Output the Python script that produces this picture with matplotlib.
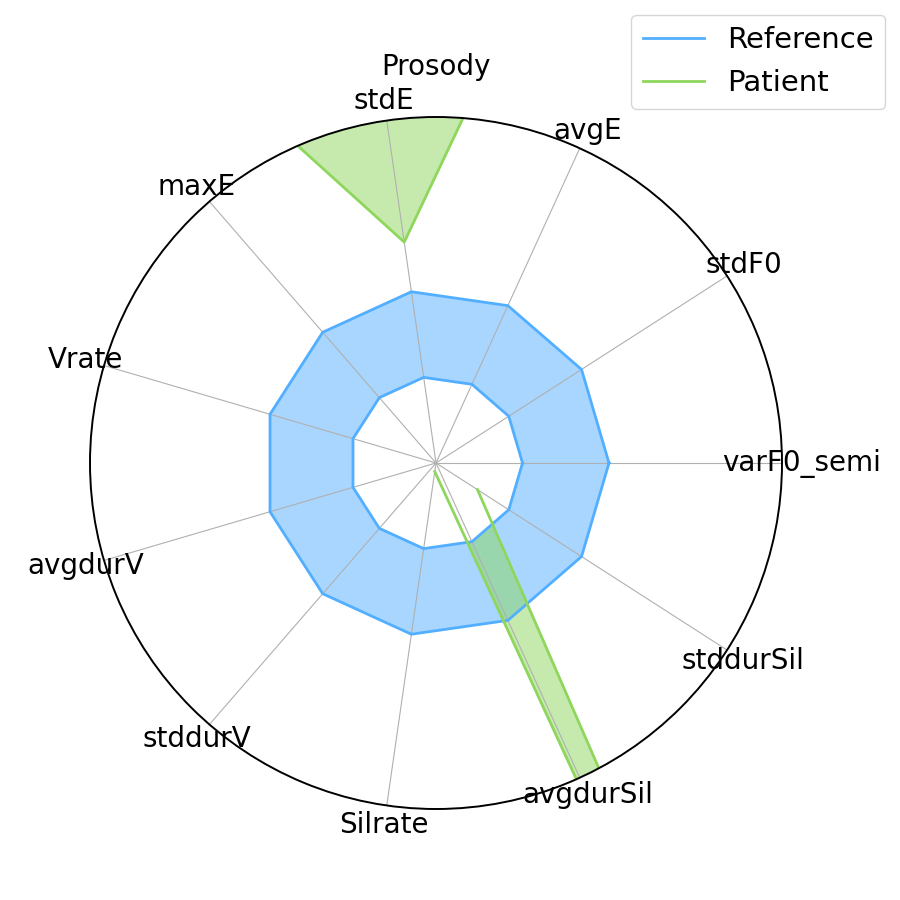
import numpy as np
import matplotlib
matplotlib.use('Agg')
import matplotlib.pyplot as plt

# Categorias del grafico radar (prosodia)
categorias = ['varF0_semi', 'stdF0', 'avgE', 'stdE', 'maxE', 'Vrate',
              'avgdurV', 'stddurV', 'Silrate', 'avgdurSil', 'stddurSil']

# Banda de referencia (limite inferior y superior)
ref_inf = [1.0, 1.0, 1.0, 1.0, 1.0, 1.0, 1.0, 1.0, 1.0, 1.0, 1.0]
ref_sup = [2.0, 2.0, 2.0, 2.0, 2.0, 2.0, 2.0, 2.0, 2.0, 2.0, 2.0]

# Paciente (NaN = fuera de escala, no se dibuja)
paciente = [np.nan, np.nan, 100.0, 2.58, 13.6, np.nan,
            np.nan, np.nan, 0.1, 18.0, 0.57]

r_max = 4.0

azul = '#52afff'
verde = '#8ed65c'

n = len(categorias)
angulos = np.linspace(0, 2 * np.pi, n, endpoint=False).tolist()
angulos_c = angulos + angulos[:1]

def cerrar(v):
    return list(v) + [v[0]]

plt.rcParams['font.size'] = 20

fig = plt.figure(figsize=(9, 9), dpi=100)
ax = fig.add_axes([90 / 900, 91 / 900, 692 / 900, 692 / 900], polar=True)

# rellenos: referencia exterior, paciente, y hueco interior en blanco
ax.fill(angulos_c, cerrar(ref_sup), color=azul, alpha=0.5, linewidth=0)
ax.fill(angulos_c, cerrar(paciente), color=verde, alpha=0.5, linewidth=0)
ax.fill(angulos_c, cerrar(ref_inf), color='white', alpha=1.0, linewidth=0)

# lineas
ax.plot(angulos_c, cerrar(ref_sup), color=azul, linewidth=2, label='Reference')
ax.plot(angulos_c, cerrar(ref_inf), color=azul, linewidth=2)
ax.plot(angulos_c, cerrar(paciente), color=verde, linewidth=2, label='Patient')

ax.set_ylim(0, r_max)
ax.set_yticks([])
ax.set_xticks(angulos)
ax.set_xticklabels(categorias, fontsize=20)
ax.set_title('Prosody', fontsize=20, pad=9)
ax.spines['polar'].set_linewidth(1.4)

fig.legend(loc='upper right', fontsize=21, handlelength=2.1)

fig.savefig('out.png', dpi=100)
